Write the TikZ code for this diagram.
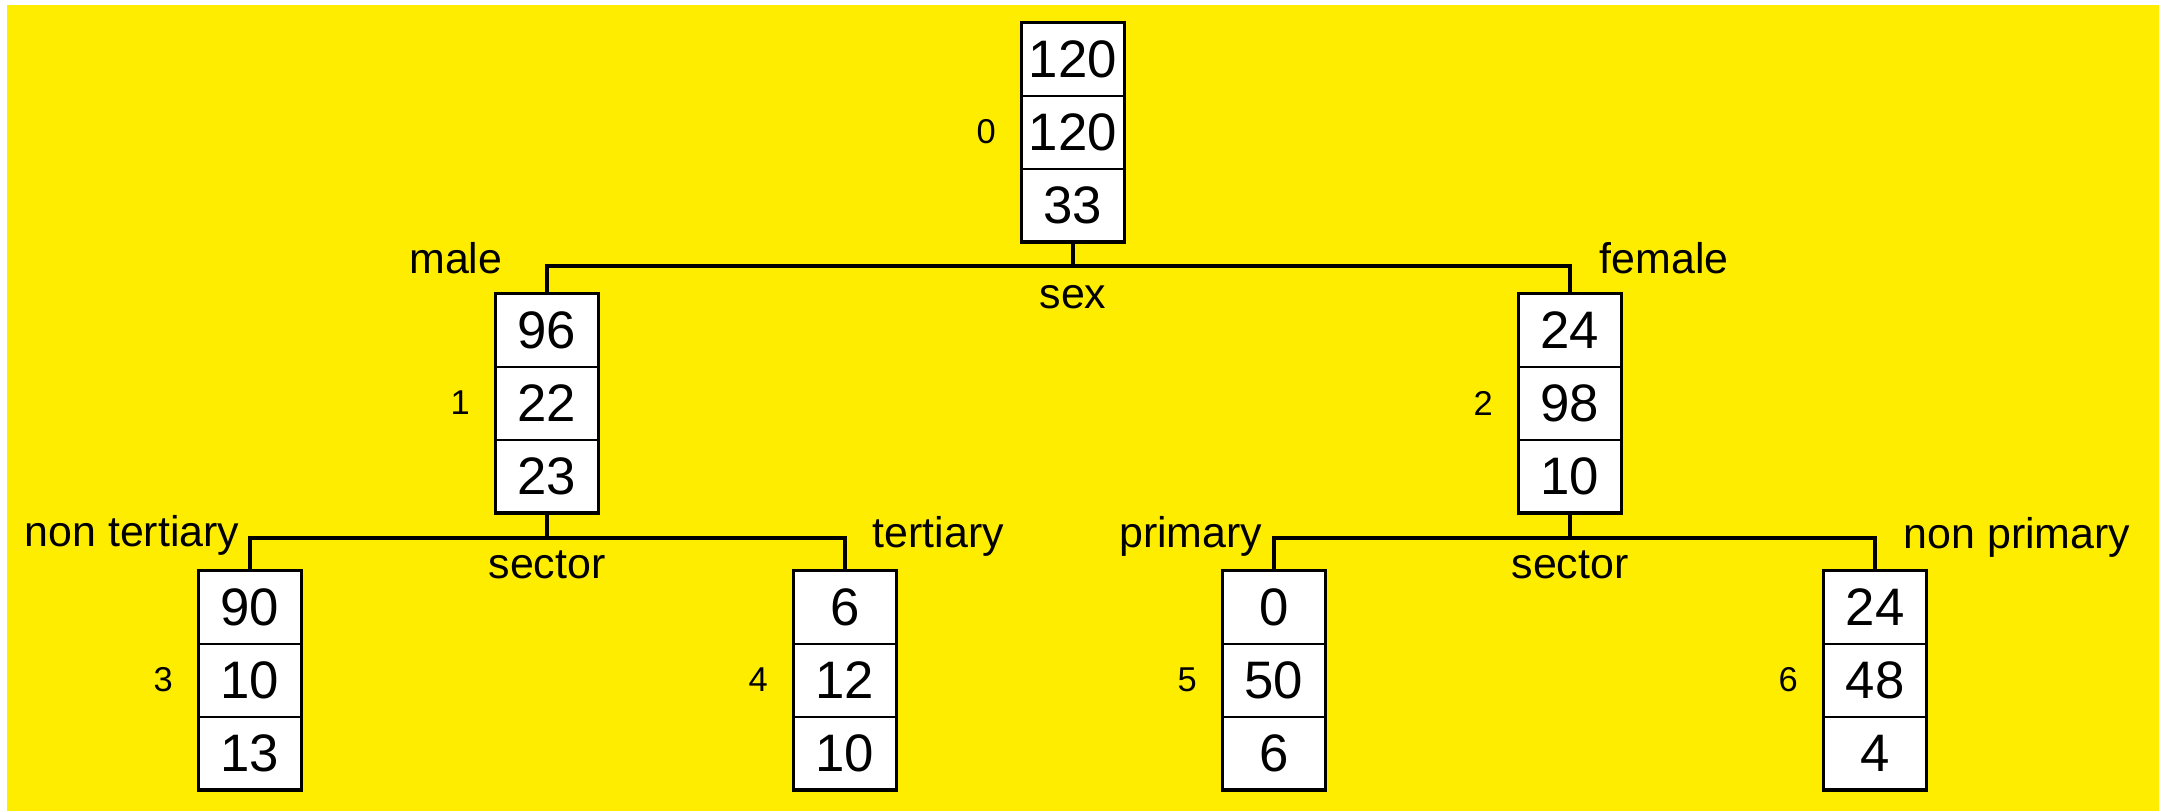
\documentclass[tikz,border=0pt]{standalone}
\usepackage{fontspec}
\setmainfont{Liberation Sans}
\usepackage{tikz}
\usetikzlibrary{positioning}
\definecolor{bgyellow}{RGB}{255,237,0}

\begin{document}
\begin{tikzpicture}[x=0.01cm, y=-0.01cm,
    cell/.style={draw, line width=0.3pt, fill=white, minimum width=1.02cm, minimum height=0.72cm, inner sep=0pt, font=\fontsize{15}{17}\selectfont},
    frame/.style={line width=1pt},
    link/.style={line width=1pt},
    idx/.style={inner sep=0pt, font=\fontsize{9.8}{11}\selectfont},
    lab/.style={inner sep=0pt, font=\fontsize{12.2}{14}\selectfont}]
    \useasboundingbox (0,0) rectangle (2168,811);
    \fill[bgyellow] (7,5) rectangle (2159,811);

    % Node 0 (root)
    \node[cell] (n0a) at (1073,59) {120};
    \node[cell, below=0pt of n0a] (n0b) {120};
    \node[cell, below=0pt of n0b] (n0c) {33};
    \draw[frame] (n0a.north west) rectangle (n0c.south east);
    \node[idx, left=0.25cm of n0b] (i0) {0};

    % Node 1
    \node[cell] (n1a) at (547,330) {96};
    \node[cell, below=0pt of n1a] (n1b) {22};
    \node[cell, below=0pt of n1b] (n1c) {23};
    \draw[frame] (n1a.north west) rectangle (n1c.south east);
    \node[idx, left=0.25cm of n1b] (i1) {1};

    % Node 2
    \node[cell] (n2a) at (1570,330) {24};
    \node[cell, below=0pt of n2a] (n2b) {98};
    \node[cell, below=0pt of n2b] (n2c) {10};
    \draw[frame] (n2a.north west) rectangle (n2c.south east);
    \node[idx, left=0.25cm of n2b] (i2) {2};

    % Node 3
    \node[cell] (n3a) at (250,607) {90};
    \node[cell, below=0pt of n3a] (n3b) {10};
    \node[cell, below=0pt of n3b] (n3c) {13};
    \draw[frame] (n3a.north west) rectangle (n3c.south east);
    \node[idx, left=0.25cm of n3b] (i3) {3};

    % Node 4
    \node[cell] (n4a) at (845,607) {6};
    \node[cell, below=0pt of n4a] (n4b) {12};
    \node[cell, below=0pt of n4b] (n4c) {10};
    \draw[frame] (n4a.north west) rectangle (n4c.south east);
    \node[idx, left=0.25cm of n4b] (i4) {4};

    % Node 5
    \node[cell] (n5a) at (1274,607) {0};
    \node[cell, below=0pt of n5a] (n5b) {50};
    \node[cell, below=0pt of n5b] (n5c) {6};
    \draw[frame] (n5a.north west) rectangle (n5c.south east);
    \node[idx, left=0.25cm of n5b] (i5) {5};

    % Node 6
    \node[cell] (n6a) at (1875,607) {24};
    \node[cell, below=0pt of n6a] (n6b) {48};
    \node[cell, below=0pt of n6b] (n6c) {4};
    \draw[frame] (n6a.north west) rectangle (n6c.south east);
    \node[idx, left=0.25cm of n6b] (i6) {6};

    % Split on sex
    \coordinate (j0) at (n0c.south |- 0,266);
    \coordinate (c1) at (n1a.north |- j0);
    \coordinate (c2) at (n2a.north |- j0);
    \draw[link] (n0c.south) -- (j0);
    \draw[link] (n1a.north) |- (j0) -| (n2a.north);
    \node[lab, anchor=base] (sex) at ([yshift=-0.42cm]j0) {sex};
    \node[lab, anchor=base east] (male) at ([xshift=-0.44cm, yshift=-0.07cm]c1) {male};
    \node[lab, anchor=base west] (female) at ([xshift=0.29cm, yshift=-0.07cm]c2) {female};

    % Split on sector (left)
    \coordinate (j1) at (n1c.south |- 0,538);
    \coordinate (c3) at (n3a.north |- j1);
    \coordinate (c4) at (n4a.north |- j1);
    \draw[link] (n1c.south) -- (j1);
    \draw[link] (n3a.north) |- (j1) -| (n4a.north);
    \node[lab, anchor=base] (sec1) at ([yshift=-0.40cm]j1) {sector};
    \node[lab, anchor=base east] (nter) at ([xshift=-0.10cm, yshift=-0.08cm]c3) {non tertiary};
    \node[lab, anchor=base west] (ter) at ([xshift=0.27cm, yshift=-0.09cm]c4) {tertiary};

    % Split on sector (right)
    \coordinate (j2) at (n2c.south |- 0,538);
    \coordinate (c5) at (n5a.north |- j2);
    \coordinate (c6) at (n6a.north |- j2);
    \draw[link] (n2c.south) -- (j2);
    \draw[link] (n5a.north) |- (j2) -| (n6a.north);
    \node[lab, anchor=base] (sec2) at ([yshift=-0.40cm]j2) {sector};
    \node[lab, anchor=base east] (prim) at ([xshift=-0.11cm, yshift=-0.09cm]c5) {primary};
    \node[lab, anchor=base west] (nprim) at ([xshift=0.28cm, yshift=-0.10cm]c6) {non primary};
\end{tikzpicture}
\end{document}
